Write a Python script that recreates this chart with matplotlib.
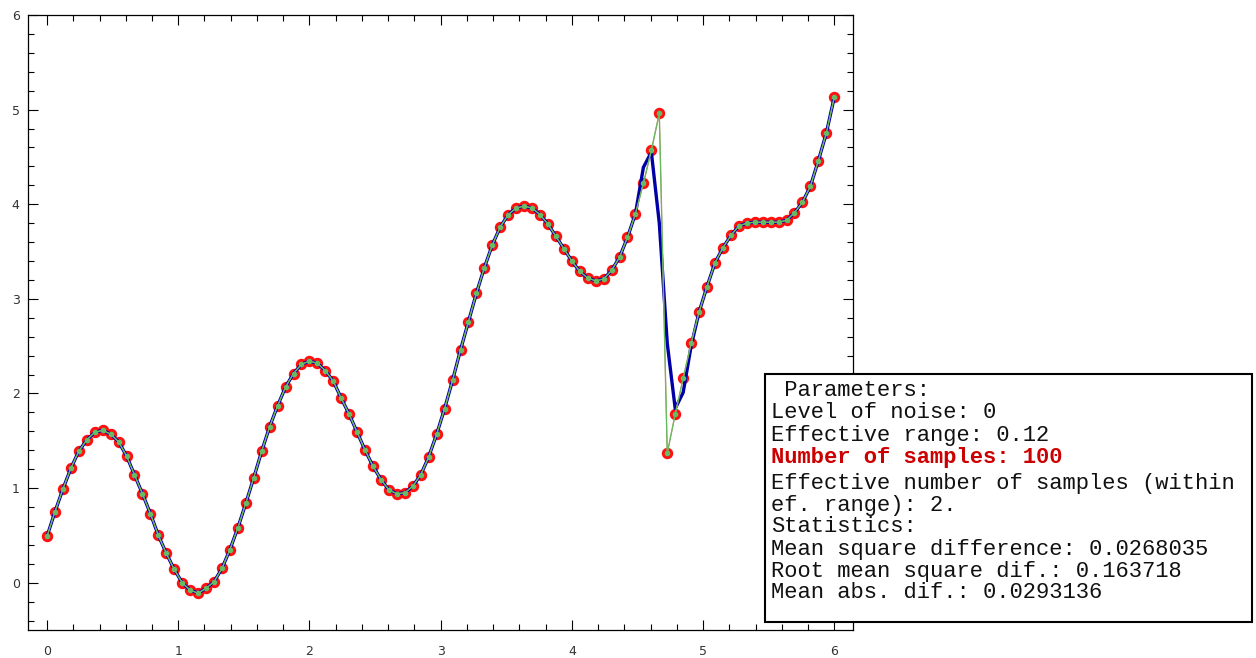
import numpy as np
import matplotlib
matplotlib.use('Agg')
from matplotlib import pyplot as plt
from matplotlib.ticker import MultipleLocator
from matplotlib.patches import Rectangle

# sample values (100 samples on [0, 6])
y_samples = [
    0.49, 0.75, 0.99, 1.21, 1.39, 1.51, 1.59, 1.61, 1.57, 1.49,
    1.34, 1.14, 0.94, 0.73, 0.50, 0.31, 0.14, 0.00, -0.08, -0.11,
    -0.06, 0.01, 0.15, 0.35, 0.58, 0.84, 1.11, 1.39, 1.65, 1.87,
    2.07, 2.21, 2.31, 2.34, 2.32, 2.24, 2.13, 1.95, 1.78, 1.59,
    1.40, 1.23, 1.09, 0.98, 0.94, 0.95, 1.02, 1.14, 1.33, 1.57,
    1.84, 2.14, 2.46, 2.76, 3.06, 3.33, 3.57, 3.76, 3.89, 3.96,
    3.98, 3.96, 3.89, 3.79, 3.66, 3.53, 3.40, 3.29, 3.22, 3.19,
    3.21, 3.30, 3.44, 3.65, 3.90, 4.22, 4.57, 4.96, 1.37, 1.78,
    2.16, 2.53, 2.86, 3.13, 3.38, 3.54, 3.67, 3.77, 3.80, 3.81,
    3.81, 3.81, 3.81, 3.83, 3.91, 4.02, 4.19, 4.46, 4.75, 5.13,
]
x_samples = np.linspace(0, 6, len(y_samples))

# smoothed estimate: equal to the samples except around the jump
y_smooth = list(y_samples)
y_smooth[75:82] = [4.39, 4.55, 3.80, 2.53, 1.84, 2.01, 2.50]

info_lines = [
    " Parameters:",
    "Level of noise: 0",
    "Effective range: 0.12",
    "Number of samples: 100",
    "Effective number of samples (within",
    "ef. range): 2.",
    "Statistics:",
    "Mean square difference: 0.0268035",
    "Root mean square dif.: 0.163718",
    "Mean abs. dif.: 0.0293136",
]

W, H = 1256, 658
fig = plt.figure(figsize=(W / 100, H / 100), dpi=100)
ax = fig.add_axes([28 / W, (H - 630) / H, (853 - 28) / W, (630 - 15) / H])

ax.plot(x_samples, y_samples, 'o', color='#ff1010', markersize=7.2, zorder=2)
ax.plot(x_samples, y_smooth, '-', color='#0000a8', lw=2.4, zorder=3)
ax.plot(x_samples, y_samples, '-', color='#a89c6a', lw=1.0, zorder=4)
ax.plot(x_samples, y_samples, '-', color='#5cc05c', lw=0.7, zorder=5)
ax.plot(x_samples, y_samples, 'o', color='#66bb66', markersize=3, zorder=6)

ax.set_xlim(-0.145, 6.143)
ax.set_ylim(-0.5, 6.0)
ax.xaxis.set_major_locator(MultipleLocator(1))
ax.xaxis.set_minor_locator(MultipleLocator(0.2))
ax.yaxis.set_major_locator(MultipleLocator(1))
ax.yaxis.set_minor_locator(MultipleLocator(0.2))
ax.tick_params(which='both', direction='in', top=True, right=True,
               labelsize=9, labelcolor='#333333', width=0.8)
ax.tick_params(which='major', length=7, pad=11)
ax.tick_params(which='minor', length=4)
ax.tick_params(axis='y', which='major', pad=6)
for s in ax.spines.values():
    s.set_linewidth(0.9)

# parameter box
x0, y0, x1, y1 = 765, 374, 1252, 622
fig.patches.append(Rectangle((x0 / W, 1 - y1 / H), (x1 - x0) / W, (y1 - y0) / H,
                             transform=fig.transFigure, facecolor='white',
                             edgecolor='black', lw=1.5, zorder=10))
line_y = [391, 412, 435, 457, 483, 505, 527, 549, 571, 593]
for i, (txt, ly) in enumerate(zip(info_lines, line_y)):
    bold = txt.startswith("Number")
    fig.text(771 / W, 1 - ly / H, txt, family='Liberation Mono', fontsize=15.9,
             va='center', ha='left', zorder=11,
             color='#cc0000' if bold else '#111111',
             fontweight='bold' if bold else 'normal')

fig.savefig('out.png', dpi=100)
